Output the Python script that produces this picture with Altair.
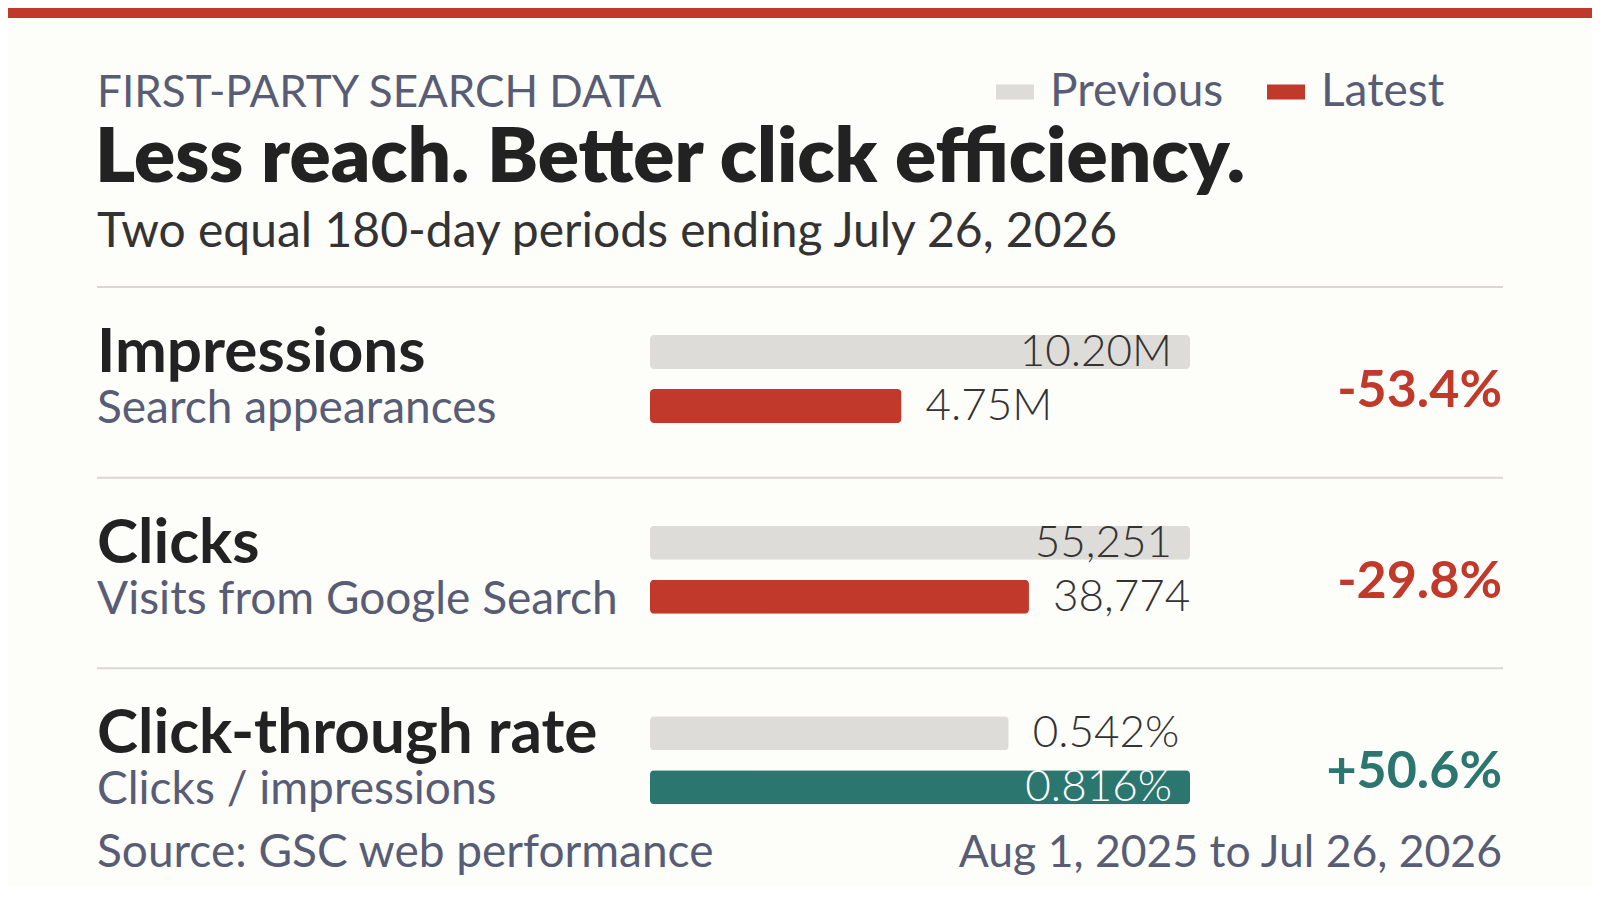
import pandas as pd
import altair as alt

# metric rows, top to bottom
metrics = ["Impressions", "Clicks", "Click-through rate"]
descriptions = ["Search appearances", "Visits from Google Search", "Clicks / impressions"]
previous = [10.20, 55251, 0.542]      # impressions in millions, CTR in %
latest = [4.75, 38774, 0.816]
previous_labels = ["10.20M", "55,251", "0.542%"]
latest_labels = ["4.75M", "38,774", "0.816%"]
periods = ["Previous", "Latest"]

RED = "#c0392b"
TEAL = "#2b766e"
GREY = "#dedcd8"
SLATE = "#585d75"
INK = "#222222"
TXT = "#333333"
RULE = "#dad7d1"
BG = "#fdfdfa"
FONT = "Lato"

W, H = 1584, 878

rows = pd.DataFrame({"metric": metrics, "desc": descriptions,
                     "prev": previous, "last": latest})
rows["change"] = (rows["last"] / rows["prev"] - 1) * 100

bars = pd.DataFrame({
    "metric": metrics * 2,
    "period": ["Previous"] * 3 + ["Latest"] * 3,
    "value": previous + latest,
    "label": previous_labels + latest_labels,
})
bars["share"] = bars["value"] / bars.groupby("metric")["value"].transform("max")
bars = bars.merge(rows[["metric", "change"]], on="metric")

y_scale = alt.Scale(domain=metrics, range=[279, 851], paddingInner=0, paddingOuter=0)
off_scale = alt.Scale(domain=periods, range=[48, 136], paddingInner=0.37, paddingOuter=0)
x_scale = alt.Scale(domain=[0, 1], range=[642, 1182])

Y = alt.Y("metric:N", scale=y_scale, axis=None)
Y0 = alt.Y("metric:N", scale=y_scale, axis=None, bandPosition=0)
YO = alt.YOffset("period:N", scale=off_scale)
X = alt.X("share:Q", scale=x_scale, axis=None)

base = alt.Chart(bars).transform_calculate(
    tone="datum.period == 'Previous' ? 'Previous' : (datum.change > 0 ? 'Gain' : 'Latest')"
)

bar_layer = base.mark_bar(cornerRadius=4).encode(
    x=X, y=Y, yOffset=YO,
    color=alt.Color("tone:N",
                    scale=alt.Scale(domain=["Previous", "Latest", "Gain"], range=[GREY, RED, TEAL]),
                    legend=alt.Legend(values=["Previous", "Latest"], orient="none",
                                      legendX=984, legendY=61, direction="horizontal",
                                      title=None, symbolType="M-1,-0.4L1,-0.4L1,0.4L-1,0.4Z",
                                      symbolSize=1444, symbolStrokeWidth=0,
                                      labelFont=FONT, labelFontSize=46, labelColor=SLATE,
                                      labelLimit=400, labelOffset=12, columnPadding=39,
                                      padding=0)),
)

inside = base.transform_filter("datum.share >= 1").mark_text(
    align="right", baseline="middle", dx=-18, dy=1, font=FONT, fontSize=44, fontWeight=300
).encode(
    x=X, y=Y, yOffset=YO, text="label:N",
    color=alt.condition("datum.period == 'Latest'", alt.value("#ffffff"), alt.value(TXT)),
)

outside = base.transform_filter("datum.share < 1").mark_text(
    align="left", baseline="middle", dx=24, dy=1, font=FONT, fontSize=44, fontWeight=300,
    color=TXT,
).encode(x=X, y=Y, yOffset=YO, text="label:N")

row_base = alt.Chart(rows)

dividers = row_base.mark_rule(color=RULE, strokeWidth=2).encode(
    y=Y0, x=alt.value(89), x2=alt.value(1495)
)

names = row_base.mark_text(
    align="left", baseline="alphabetic", dy=85, font=FONT, fontSize=62, fontWeight="bold",
    color=INK,
).encode(y=Y0, x=alt.value(89), text="metric:N")

descs = row_base.mark_text(
    align="left", baseline="alphabetic", dy=136, font=FONT, fontSize=46, color=SLATE,
).encode(y=Y0, x=alt.value(89), text="desc:N")

changes = row_base.transform_calculate(
    pct="(datum.change > 0 ? '+' : '-') + format(abs(datum.change), '.1f') + '%'"
).mark_text(
    align="right", baseline="alphabetic", dy=120, font=FONT, fontSize=52, fontWeight="bold",
).encode(
    y=Y0, x=alt.value(1494), text="pct:N",
    color=alt.condition("datum.change > 0", alt.value(TEAL), alt.value(RED)),
)

one = pd.DataFrame({"k": [0]})


def note(text, x, y, size, color, weight="normal", align="left"):
    return alt.Chart(one).mark_text(
        text=text, align=align, baseline="alphabetic", font=FONT, fontSize=size,
        fontWeight=weight, color=color,
    ).encode(x=alt.value(x), y=alt.value(y))


band = alt.Chart(one).mark_rect(color=RED).encode(
    x=alt.value(0), x2=alt.value(W), y=alt.value(0), y2=alt.value(10)
)

header = [
    note("FIRST-PARTY SEARCH DATA", 89, 99, 44, SLATE),
    note("Less reach. Better click efficiency.", 87, 174, 76.5, INK, weight=800),
    note("Two equal 180-day periods ending July 26, 2026", 89, 239, 48, TXT),
    note("Source: GSC web performance", 89, 859, 46, SLATE),
    note("Aug 1, 2025 to Jul 26, 2026", 1494, 859, 44.5, SLATE, align="right"),
]

chart = alt.layer(
    band, dividers, bar_layer, inside, outside, names, descs, changes, *header
).properties(
    width=W, height=H, autosize=alt.AutoSizeParams(type="none"), padding=0,
    background=BG,
).configure_view(strokeWidth=0)

chart.save("out.html", embed_options={"renderer": "svg", "actions": False})
